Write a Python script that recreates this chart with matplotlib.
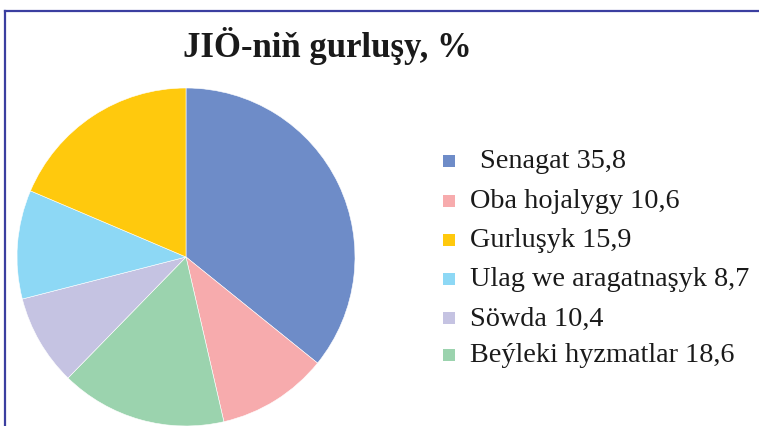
import matplotlib
matplotlib.use("Agg")
import matplotlib.pyplot as plt
from matplotlib.patches import Rectangle
from matplotlib.lines import Line2D

title = "JIÖ-niň gurluşy, %"
labels = ["Senagat", "Oba hojalygy", "Gurluşyk", "Ulag we aragatnaşyk", "Söwda", "Beýleki hyzmatlar"]
value_text = ["35,8", "10,6", "15,9", "8,7", "10,4", "18,6"]
values = [35.8, 10.6, 15.9, 8.7, 10.4, 18.6]
legend_colors = ["#6E8CC8", "#F7ABAD", "#FFC90D", "#8DD8F5", "#C5C3E2", "#9BD3AE"]
# slice colours as drawn in the reference (clockwise from top)
slice_colors = ["#6E8CC8", "#F7ABAD", "#9BD3AE", "#C5C3E2", "#8DD8F5", "#FFC90D"]

W, H = 759, 427
fig = plt.figure(figsize=(W / 100, H / 100), dpi=100)
fig.patch.set_facecolor("white")

def fx(px):
    return px / W

def fy(py):
    return 1 - py / H

# frame lines
fig.add_artist(Line2D([fx(5), fx(759)], [fy(12), fy(12)], transform=fig.transFigure,
                      color="#3B3FA0", lw=1.6))
fig.add_artist(Line2D([fx(5), fx(5)], [fy(12), fy(427)], transform=fig.transFigure,
                      color="#3B3FA0", lw=1.6))

# pie
cx, cy, r = 186, 258, 169
ax = fig.add_axes([fx(cx - r), fy(cy + r), 2 * r / W, 2 * r / H])
ax.pie(values, colors=slice_colors, startangle=90, counterclock=False,
       radius=1, wedgeprops=dict(edgecolor="white", linewidth=0.4))
ax.set_xlim(-1, 1)
ax.set_ylim(-1, 1)
ax.set_aspect("equal")
ax.axis("off")

# title
fig.text(fx(327), fy(46), title, ha="center", va="center",
         fontfamily="Liberation Serif", fontweight="bold", fontsize=25, color="#1a1a1a")

# legend
row_y = [162, 202, 241, 280, 319, 356]
for i, (lab, vt, col) in enumerate(zip(labels, value_text, legend_colors)):
    y = row_y[i]
    fig.add_artist(Rectangle((fx(443), fy(y + 6)), 12 / W, 12 / H,
                             transform=fig.transFigure, facecolor=col, edgecolor="none"))
    x0 = 480 if i == 0 else 470
    fig.text(fx(x0), fy(y), f"{lab} {vt}", ha="left", va="center",
             fontfamily="Liberation Serif", fontsize=20.3, color="#1a1a1a")

fig.savefig("out.png", dpi=100)
